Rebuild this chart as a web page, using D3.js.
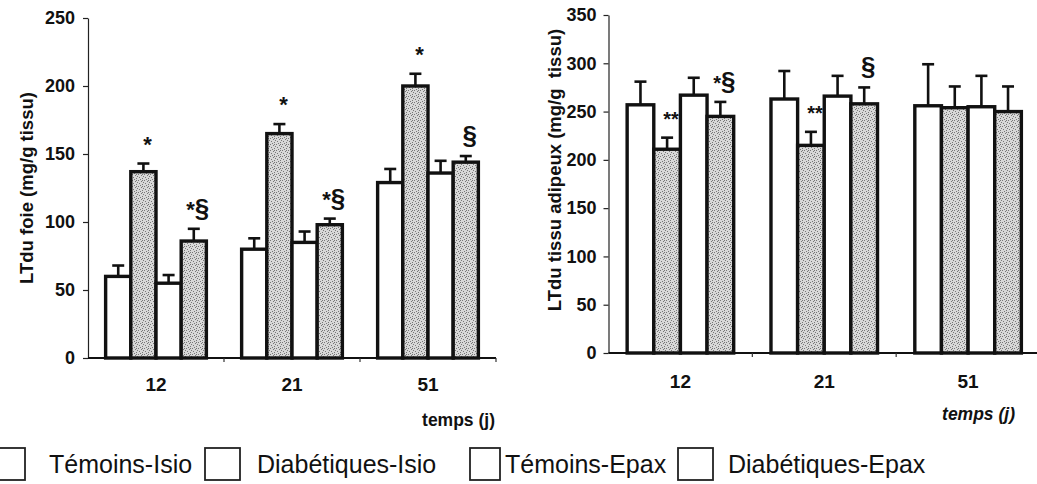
<!DOCTYPE html>
<html><head><meta charset="utf-8">
<script src="https://cdn.jsdelivr.net/npm/d3@7"></script>
<style>
html,body{margin:0;padding:0;background:#fff;}
svg{display:block;font-family:"Liberation Sans",Arial,Helvetica,sans-serif;}
</style></head><body>
<svg id="fig" width="1037" height="484"></svg>
<script>
// Days of sampling and the four animal groups
const days = ["12", "21", "51"];
const groupNames = ["Témoins-Isio", "Diabétiques-Isio", "Témoins-Epax", "Diabétiques-Epax"];
const stippled = [false, true, false, true];

// Liver LT content (mg/g tissue): mean and SEM, per day then per group
const foieMean = [[60, 137, 55, 86], [80, 165, 85, 98], [129, 200, 136, 144]];
const foieSem  = [[8, 6, 6, 9], [8, 7, 8, 4.5], [10, 9, 9, 4.5]];
const foieMarks = [["", "*", "", "*§"], ["", "*", "", "*§"], ["", "*", "", "§"]];
const foieTicks = [0, 50, 100, 150, 200, 250];

// Adipose tissue LT content (mg/g tissue)
const adipMean = [[257, 211, 267, 245], [263, 215, 266, 258], [256, 254, 255, 250]];
const adipSem  = [[24, 12, 18, 15], [29, 14, 21, 17], [43, 22, 32, 26]];
const adipMarks = [["", "**", "", "*§"], ["", "**", "", "§"], ["", "", "", ""]];
const adipTicks = [0, 50, 100, 150, 200, 250, 300, 350];

const svg = d3.select("#fig");

// stippled grey texture for the diabetic groups
const defs = svg.append("defs");
const pat = defs.append("pattern").attr("id", "stipple")
  .attr("width", 6).attr("height", 6).attr("patternUnits", "userSpaceOnUse");
pat.append("rect").attr("width", 6).attr("height", 6).attr("fill", "#d8d8d8");
[[0,0],[3,1],[1,3],[4,4],[2,5],[5,2],[4,0]].forEach(([x, y]) =>
  pat.append("rect").attr("x", x).attr("y", y).attr("width", 1).attr("height", 1).attr("fill", "#777"));

function panel(cfg) {
  const g = svg.append("g");
  const x = d3.scaleBand().domain(days).range([cfg.x0, cfg.x1]).padding(0);
  const xs = d3.scaleBand().domain(d3.range(4)).range([0, x.bandwidth()])
    .paddingInner(0).paddingOuter(0.7);
  const y = d3.scaleLinear().domain([0, cfg.yMax]).range([cfg.yBottom, cfg.yTop]);

  // y axis
  const ya = g.append("g").attr("transform", `translate(${cfg.x0},0)`)
    .call(d3.axisLeft(y).tickValues(cfg.ticks).tickSize(5).tickPadding(cfg.tickPad).tickSizeOuter(0));
  ya.select(".domain").attr("stroke", "#222").attr("stroke-width", 1.2);
  ya.selectAll(".tick line").attr("stroke", "#222").attr("stroke-width", 1.2);
  ya.selectAll(".tick text").attr("fill", "#111").attr("font-size", 18)
    .attr("font-weight", "bold").attr("font-family", "'Liberation Sans', Arial, sans-serif");

  // x axis: labels at band centres, ticks at band boundaries
  const xa = g.append("g").attr("transform", `translate(0,${cfg.yBottom})`)
    .call(d3.axisBottom(x).tickSize(0).tickPadding(cfg.xPad));
  xa.select(".domain").remove();
  xa.selectAll(".tick text").attr("fill", "#111").attr("font-size", 19)
    .attr("font-weight", "bold").attr("font-family", "'Liberation Sans', Arial, sans-serif");
  g.append("line").attr("x1", cfg.x0).attr("x2", cfg.xLineEnd)
    .attr("y1", cfg.yBottom).attr("y2", cfg.yBottom)
    .attr("stroke", "#111").attr("stroke-width", 1.8);
  days.forEach((d) => {
    const bx = x(d) + x.bandwidth();
    g.append("line").attr("x1", bx).attr("x2", bx)
      .attr("y1", cfg.yBottom).attr("y2", cfg.yBottom + 4)
      .attr("stroke", "#333").attr("stroke-width", 1.2);
  });

  // bars with upward SEM bars
  days.forEach((d, di) => {
    groupNames.forEach((name, si) => {
      const m = cfg.mean[di][si], s = cfg.sem[di][si];
      const bx = x(d) + xs(si), bw = xs.bandwidth(), cx = bx + bw / 2;
      g.append("line").attr("x1", cx).attr("x2", cx)
        .attr("y1", y(m)).attr("y2", y(m + s))
        .attr("stroke", "#111").attr("stroke-width", 2.6);
      g.append("line").attr("x1", cx - 6).attr("x2", cx + 6)
        .attr("y1", y(m + s)).attr("y2", y(m + s))
        .attr("stroke", "#111").attr("stroke-width", 2.6);
      g.append("rect").attr("x", bx).attr("y", y(m))
        .attr("width", bw).attr("height", y(0) - y(m))
        .attr("fill", stippled[si] ? "url(#stipple)" : "#fff")
        .attr("stroke", "#111").attr("stroke-width", 3.4);
      const mark = cfg.marks[di][si];
      if (mark) {
        const t = g.append("text").attr("x", cx + 4).attr("y", y(m + s) - 12)
          .attr("text-anchor", "middle").attr("font-weight", "bold").attr("fill", "#111");
        for (const ch of mark) {
          t.append("tspan").attr("font-size", ch === "§" ? 26 : cfg.starSize).text(ch);
        }
      }
    });
  });

  // axis titles
  g.append("text")
    .attr("transform", `translate(${cfg.yLabelX},${cfg.yLabelY}) rotate(-90)`)
    .attr("text-anchor", "middle").attr("font-size", 18.5).attr("font-weight", "bold")
    .attr("fill", "#111").attr("xml:space", "preserve").text(cfg.yTitle);
  g.append("text").attr("x", cfg.xTitleX).attr("y", cfg.xTitleY)
    .attr("text-anchor", "end").attr("font-size", 17.5).attr("font-weight", "bold")
    .attr("font-style", cfg.italic ? "italic" : "normal")
    .attr("fill", "#111").text("temps (j)");
}

panel({
  x0: 88, x1: 496, xLineEnd: 496, yTop: 18, yBottom: 358, yMax: 250,
  ticks: foieTicks, tickPad: 8, xPad: 20,
  mean: foieMean, sem: foieSem, marks: foieMarks, starSize: 22,
  yTitle: "LTdu foie (mg/g tissu)", yLabelX: 33, yLabelY: 188,
  xTitleX: 495, xTitleY: 426, italic: false
});

panel({
  x0: 608.5, x1: 1040, xLineEnd: 1037, yTop: 15, yBottom: 353, yMax: 350,
  ticks: adipTicks, tickPad: 7, xPad: 22,
  mean: adipMean, sem: adipSem, marks: adipMarks, starSize: 20,
  yTitle: "LTdu tissu adipeux (mg/g  tissu)", yLabelX: 561, yLabelY: 170,
  xTitleX: 1015, xTitleY: 420, italic: true
});

// legend
const legendBoxes = [[-10, 35], [205, 35], [470, 30], [678, 35]];
const legendTextX = [49, 257, 505, 728];
const lg = svg.append("g");
groupNames.forEach((name, i) => {
  lg.append("rect").attr("x", legendBoxes[i][0]).attr("y", 448)
    .attr("width", legendBoxes[i][1]).attr("height", 32)
    .attr("fill", "#fff").attr("stroke", "#222").attr("stroke-width", 1.8);
  lg.append("text").attr("x", legendTextX[i]).attr("y", 473)
    .attr("font-size", 25).attr("fill", "#111").text(name);
});
</script>
</body></html>
